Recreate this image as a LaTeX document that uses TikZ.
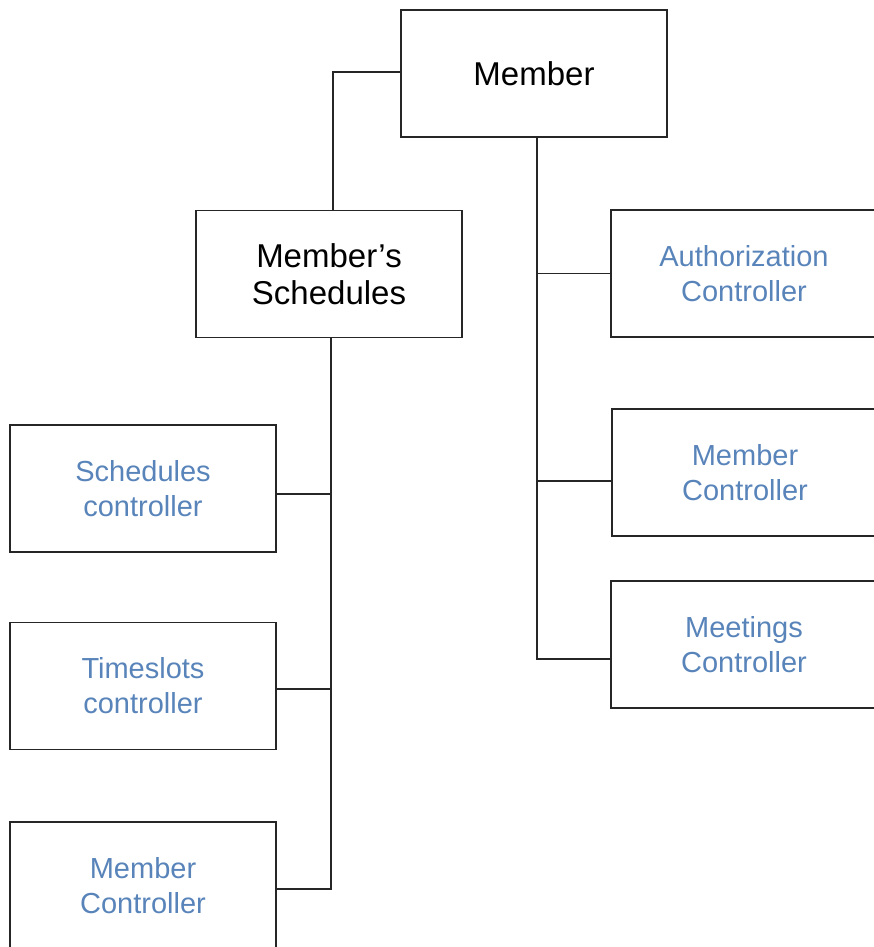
\documentclass[tikz,border=0pt]{standalone}
\usepackage{fontspec}
\setmainfont{Liberation Sans}
\definecolor{ctrlblue}{RGB}{88,132,186}
\begin{document}
\begin{tikzpicture}[x=1pt,y=-1pt,
  box/.style={draw=black!85,line width=1.4pt,minimum width=266pt,minimum height=127pt,inner sep=0pt,align=center},
  mainbox/.style={box,font=\fontsize{33}{37}\selectfont},
  ctrlbox/.style={box,text=ctrlblue,font=\fontsize{29}{35}\selectfont},
  link/.style={draw=black!85,line width=1.3pt}]
\useasboundingbox (0,0) rectangle (874,947);
% top-level and schedules module
\node[mainbox] (member) at (534,73.5) {Member};
\node[mainbox] (sched) at (329,274) {Member’s\\Schedules};
% controllers under Member
\node[ctrlbox] (auth) at (744,273.5) {Authorization\\Controller};
\node[ctrlbox] (memctl) at (745,472.5) {Member\\Controller};
\node[ctrlbox] (meet) at (744,644.5) {Meetings\\Controller};
% controllers under Member's Schedules
\node[ctrlbox] (schctl) at (143,488.5) {Schedules\\controller};
\node[ctrlbox] (slots) at (143,686) {Timeslots\\controller};
\node[ctrlbox] (memctl2) at (143,885.5) {Member\\Controller};
% connectors
\coordinate (rtop) at (537,137);
\coordinate (ltop) at (331,338);
\draw[link] ([yshift=1.5pt]member.west) -| ([xshift=4pt]sched.north);
\draw[link] (rtop) |- ([yshift=-14.5pt]meet.west);
\draw[link] (auth.west) -- (auth.west -| rtop);
\draw[link] ([yshift=-8.5pt]memctl.west) -- ([yshift=-8.5pt]memctl.west -| rtop);
\draw[link] (ltop) |- ([yshift=-3.5pt]memctl2.east);
\draw[link] ([yshift=-5.5pt]schctl.east) -- ([yshift=-5.5pt]schctl.east -| ltop);
\draw[link] ([yshift=-3pt]slots.east) -- ([yshift=-3pt]slots.east -| ltop);
\end{tikzpicture}
\end{document}
